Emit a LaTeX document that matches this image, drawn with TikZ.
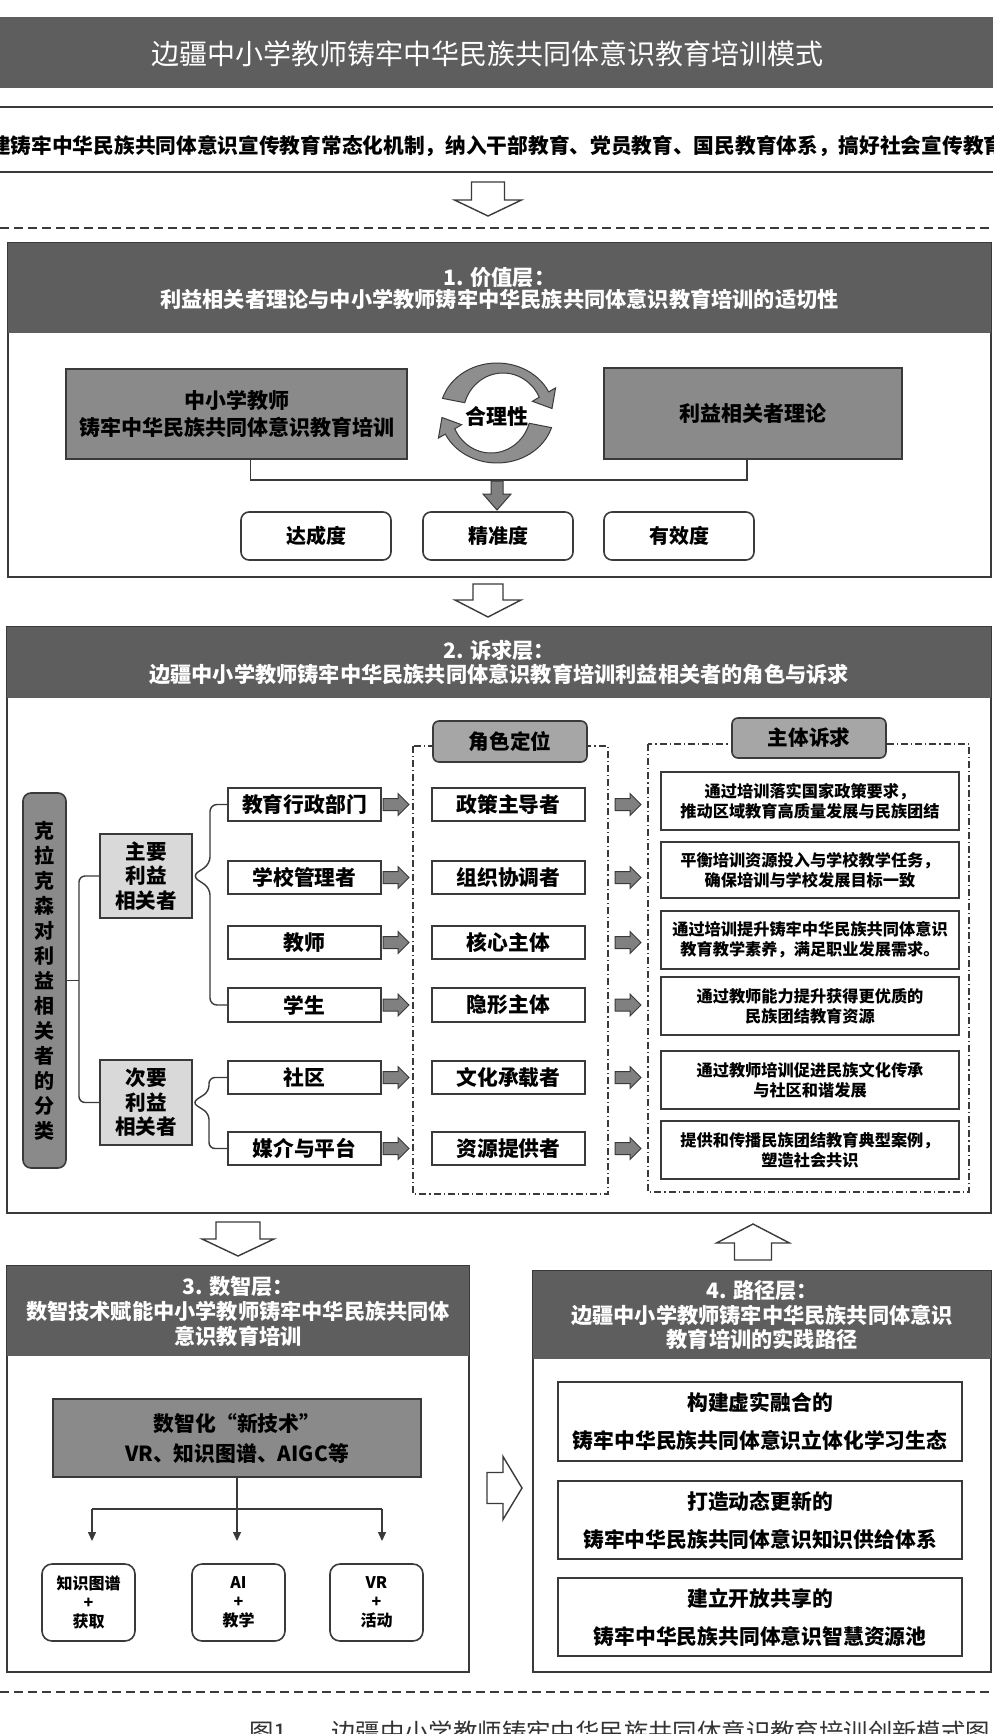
\documentclass[tikz,border=0pt]{standalone}
\usepackage{fontspec}
\setmainfont{Noto Sans CJK SC}
\usetikzlibrary{calc,arrows.meta}
\definecolor{hdr}{HTML}{5E5E5E}
\definecolor{midg}{HTML}{8A8A8A}
\definecolor{lgt}{HTML}{D9D9D9}
\definecolor{pill}{HTML}{A6A6A6}
\definecolor{bord}{HTML}{3A3A3A}
\definecolor{arrg}{HTML}{808080}
\definecolor{circg}{HTML}{8E8E8E}
\definecolor{capc}{HTML}{333333}
\newcommand\myfs[2]{\fontsize{#1}{#2}\selectfont}
\newcommand\mybox[7]{\node[#1, minimum width={(#5-#3)*0.5pt}, minimum height={(#6-#4)*0.5pt}] (#2) at ({(#3+#5)/2},{(#4+#6)/2}) {#7};}
% hollow vertical arrow: cx, yend(stem), ybase(head), ytip, stem half, head half
\newcommand\harrvert[6]{\draw[harr] ({#1-#5},#2) -- ({#1+#5},#2) -- ({#1+#5},#3) -- ({#1+#6},#3) -- (#1,#4) -- ({#1-#6},#3) -- ({#1-#5},#3) -- cycle;}
% hollow right arrow: cy, xleft, xbase, xtip, stem half, head half
\newcommand\harrright[6]{\draw[harr] (#2,{#1-#5}) -- (#3,{#1-#5}) -- (#3,{#1-#6}) -- (#4,#1) -- (#3,{#1+#6}) -- (#3,{#1+#5}) -- (#2,{#1+#5}) -- cycle;}
\newcommand\grayarr[1]{\filldraw[garr] (#1) ++(2,-6) -- ++(15,0) -- ++(0,-5) -- ++(11,11) -- ++(-11,11) -- ++(0,-5) -- ++(-15,0) -- cycle;}
\newcommand\circpath{plot[domain=197:335, samples=30] ({497+57*cos(\x)},{413+50*sin(\x)}) -- (555.6,387.9) -- (552,408.5) -- (532.4,401.3) -- plot[domain=335:197, samples=30] ({503+40*cos(\x)},{415+42*sin(\x)}) -- cycle}
\tikzset{
 bs/.style={inner sep=0pt, outer sep=0pt, align=center},
 hdrbox/.style={bs, fill=hdr, text=white, font=\bfseries\myfs{10.6}{12}},
 outbox/.style={bs, draw=bord, line width=0.7pt, fill=white},
 midbox/.style={bs, draw=bord, line width=0.8pt, fill=midg, font=\bfseries\myfs{10.5}{13.5}},
 whitebox/.style={bs, draw=bord, line width=0.8pt, fill=white, font=\bfseries\myfs{10.4}{12}},
 roundbox/.style={whitebox, rounded corners=4pt},
 pillbox/.style={bs, draw=bord, line width=0.8pt, fill=pill, rounded corners=3pt, font=\bfseries\myfs{10.3}{12}},
 lgtbox/.style={bs, draw=bord, line width=0.8pt, fill=lgt, font=\bfseries\myfs{10.3}{12.3}},
 clsbox/.style={bs, draw=bord, line width=0.8pt, fill=midg, rounded corners=4pt, font=\bfseries\myfs{10}{12.5}},
 claimbox/.style={whitebox, font=\bfseries\myfs{8.1}{10}},
 conn/.style={draw=bord, line width=0.7pt},
 garr/.style={fill=arrg, draw=bord, line width=0.5pt},
 harr/.style={fill=white, draw=bord, line width=0.7pt},
 dashline/.style={draw=bord, line width=1pt, dash pattern=on 4.5pt off 2.5pt},
 dashdotline/.style={draw=bord, line width=0.7pt, dash pattern=on 3.5pt off 1.5pt on 0.6pt off 1.5pt},
 circarr/.style={fill=circg, draw=bord, line width=0.5pt},
}
\begin{document}
\begin{tikzpicture}[x=0.5pt,y=-0.5pt]
\useasboundingbox (0,0) rectangle (993,1734);
\fill[white] (0,0) rectangle (993,1734);

% ---------- title ----------
\mybox{bs, fill=hdr}{titlebar}{0}{17}{993}{88}{}
\node[bs, text=white, font=\myfs{14}{16}] (titletext) at (487,54) {边疆中小学教师铸牢中华民族共同体意识教育培训模式};

% ---------- policy bar ----------
\draw[bord, line width=1.3pt] (0,107) -- (993,107);
\draw[bord, line width=1pt] (0,172) -- (993,172);
\begin{scope}
\clip (0,100) rectangle (993,180);
\node[bs, font=\bfseries\myfs{10.35}{12}] (policy) at (487,146) {构建铸牢中华民族共同体意识宣传教育常态化机制，纳入干部教育、党员教育、国民教育体系，搞好社会宣传教育};
\end{scope}

\harrvert{488}{182}{200}{216}{16.5}{33.5}
\draw[dashline] (0,228) -- (993,228);

% ---------- box 1 ----------
\mybox{outbox}{b1}{8}{243}{991}{577}{}
\mybox{hdrbox, font=\bfseries\myfs{10.6}{11}}{b1h}{8}{243}{991}{333}{1. 价值层：\\利益相关者理论与中小学教师铸牢中华民族共同体意识教育培训的适切性}
\mybox{midbox}{lbox}{66}{369}{407}{459}{中小学教师\\铸牢中华民族共同体意识教育培训}
\mybox{midbox}{rbox}{604}{368}{902}{459}{利益相关者理论}
\filldraw[circarr] \circpath;
\begin{scope}[rotate around={180:(497,413)}]
\filldraw[circarr] \circpath;
\end{scope}
\node[bs, font=\bfseries\myfs{10.5}{12}] (heli) at (497,416) {合理性};
\draw[conn] ($(lbox.south)+(14,0)$) -- ++(0,21) -| ($(rbox.south)+(-6,0)$);
\filldraw[garr] (491,481) -- (503,481) -- (503,494) -- (511,494) -- (497,510) -- (483,494) -- (491,494) -- cycle;
\mybox{roundbox, font=\bfseries\myfs{10}{12}}{m1}{241}{512}{391}{560}{达成度}
\mybox{roundbox, font=\bfseries\myfs{10}{12}}{m2}{423}{512}{573}{560}{精准度}
\mybox{roundbox, font=\bfseries\myfs{10}{12}}{m3}{604}{512}{754}{560}{有效度}

\harrvert{488}{584}{600}{617}{15}{33}

% ---------- box 2 ----------
\mybox{outbox}{b2}{7}{627}{991}{1213}{}
\mybox{hdrbox}{b2h}{7}{627}{991}{698}{2. 诉求层：\\边疆中小学教师铸牢中华民族共同体意识教育培训利益相关者的角色与诉求}

\draw[dashdotline] (413,746) rectangle (608,1194);
\draw[dashdotline] (648,744) rectangle (969,1192);
\mybox{pillbox}{h2}{433}{721}{587}{762}{角色定位}
\mybox{pillbox}{h3}{732}{718}{886}{758}{主体诉求}

\mybox{clsbox}{cls}{23}{793}{66}{1168}{克\\拉\\克\\森\\对\\利\\益\\相\\关\\者\\的\\分\\类}
\mybox{lgtbox}{zy}{100}{834}{192}{918}{主要\\利益\\相关者}
\mybox{lgtbox}{cy}{100}{1060}{192}{1145}{次要\\利益\\相关者}

\mybox{whitebox}{e1}{228}{788}{381}{821}{教育行政部门}
\mybox{whitebox}{e2}{228}{861}{381}{894}{学校管理者}
\mybox{whitebox}{e3}{228}{926}{381}{959}{教师}
\mybox{whitebox}{e4}{228}{988}{381}{1022}{学生}
\mybox{whitebox}{e5}{228}{1061}{381}{1094}{社区}
\mybox{whitebox}{e6}{228}{1132}{381}{1165}{媒介与平台}

\mybox{whitebox}{r1}{432}{788}{585}{821}{政策主导者}
\mybox{whitebox}{r2}{432}{861}{585}{894}{组织协调者}
\mybox{whitebox}{r3}{432}{926}{585}{959}{核心主体}
\mybox{whitebox}{r4}{432}{988}{585}{1022}{隐形主体}
\mybox{whitebox}{r5}{432}{1061}{585}{1094}{文化承载者}
\mybox{whitebox}{r6}{432}{1132}{585}{1165}{资源提供者}

\mybox{claimbox}{d1}{661}{772}{959}{830}{通过培训落实国家政策要求，\\推动区域教育高质量发展与民族团结}
\mybox{claimbox}{d2}{661}{842}{959}{898}{平衡培训资源投入与学校教学任务，\\确保培训与学校发展目标一致}
\mybox{claimbox}{d3}{661}{911}{959}{969}{通过培训提升铸牢中华民族共同体意识\\教育教学素养，满足职业发展需求。}
\mybox{claimbox}{d4}{661}{977}{959}{1035}{通过教师能力提升获得更优质的\\民族团结教育资源}
\mybox{claimbox}{d5}{661}{1051}{959}{1109}{通过教师培训促进民族文化传承\\与社区和谐发展}
\mybox{claimbox}{d6}{661}{1121}{959}{1179}{提供和传播民族团结教育典型案例，\\塑造社会共识}

\coordinate (bx) at (79,0);
\coordinate (br1) at (210,0);
\coordinate (br2) at (209,0);
\draw[conn] (cls.east) -- (cls.east -| bx);
\draw[conn, rounded corners=3pt] (zy.west) -- (zy.west -| bx) -- (cy.west -| bx) -- (cy.west);
\draw[conn, rounded corners=3.5pt] (e1.west) -- (e1.west -| br1) -- ($(zy.east -| br1)+(0,-12)$) -- (zy.east) -- ($(zy.east -| br1)+(0,12)$) -- (e4.west -| br1) -- (e4.west);
\draw[conn, rounded corners=3pt] (e5.west) -- (e5.west -| br2) -- ($(cy.east -| br2)+(0,-11)$) -- (cy.east) -- ($(cy.east -| br2)+(0,11)$) -- (e6.west -| br2) -- (e6.west);

\foreach \n in {1,...,6}{
  \grayarr{e\n.east}
  \grayarr{$(r\n.east)+(28,0)$}
}

% ---------- arrows between rows ----------
\harrvert{238}{1222}{1239}{1256}{22}{36}
\harrvert{753}{1260}{1243}{1224}{18.5}{36.5}

% ---------- box 3 ----------
\mybox{outbox}{b3}{7}{1266}{469}{1672}{}
\mybox{hdrbox, font=\bfseries\myfs{10.6}{12.5}}{b3h}{7}{1266}{469}{1356}{3. 数智层：\\数智技术赋能中小学教师铸牢中华民族共同体\\意识教育培训}
\mybox{midbox, font=\bfseries\myfs{10.4}{15}}{tech}{53}{1399}{421}{1477}{数智化“新技术”\\VR、知识图谱、AIGC等}
\mybox{whitebox, rounded corners=5pt, font=\bfseries\myfs{8}{9.5}}{k1}{42}{1564}{135}{1641}{知识图谱\\+\\获取}
\mybox{whitebox, rounded corners=5pt, font=\bfseries\myfs{8}{9.5}}{k2}{192}{1564}{285}{1641}{AI\\+\\教学}
\mybox{whitebox, rounded corners=5pt, font=\bfseries\myfs{8}{9.5}}{k3}{330}{1564}{423}{1641}{VR\\+\\活动}
\coordinate (j2) at (237,1509);
\coordinate (j1) at (92,1509);
\coordinate (j3) at (382,1509);
\coordinate (a1) at (92,1541);
\coordinate (a2) at (237,1541);
\coordinate (a3) at (382,1541);
\draw[conn] (tech.south -| j2) -- (j2);
\draw[conn] (j1) -- (j3);
\draw[conn, -{Triangle[length=4.5pt,width=4pt]}] (j1) -- (a1);
\draw[conn, -{Triangle[length=4.5pt,width=4pt]}] (j2) -- (a2);
\draw[conn, -{Triangle[length=4.5pt,width=4pt]}] (j3) -- (a3);

\harrright{1488}{487}{503}{522}{15.5}{31.5}

% ---------- box 4 ----------
\mybox{outbox}{b4}{533}{1271}{991}{1672}{}
\mybox{hdrbox, font=\bfseries\myfs{10.6}{12.3}}{b4h}{533}{1271}{991}{1359}{4. 路径层：\\边疆中小学教师铸牢中华民族共同体意识\\教育培训的实践路径}
\mybox{whitebox, font=\bfseries\myfs{10.4}{19}}{p1}{558}{1382}{962}{1461}{构建虚实融合的\\铸牢中华民族共同体意识立体化学习生态}
\mybox{whitebox, font=\bfseries\myfs{10.4}{19}}{p2}{558}{1481}{962}{1559}{打造动态更新的\\铸牢中华民族共同体意识知识供给体系}
\mybox{whitebox, font=\bfseries\myfs{10.4}{19}}{p3}{558}{1578}{962}{1656}{建立开放共享的\\铸牢中华民族共同体意识智慧资源池}

\draw[dashline] (0,1692) -- (993,1692);

% ---------- caption ----------
\node[anchor=base west, inner sep=0pt, text=capc, font=\myfs{12.2}{14}] (cap) at (249,1741) {图1\hspace{22pt}边疆中小学教师铸牢中华民族共同体意识教育培训创新模式图};
\end{tikzpicture}
\end{document}
